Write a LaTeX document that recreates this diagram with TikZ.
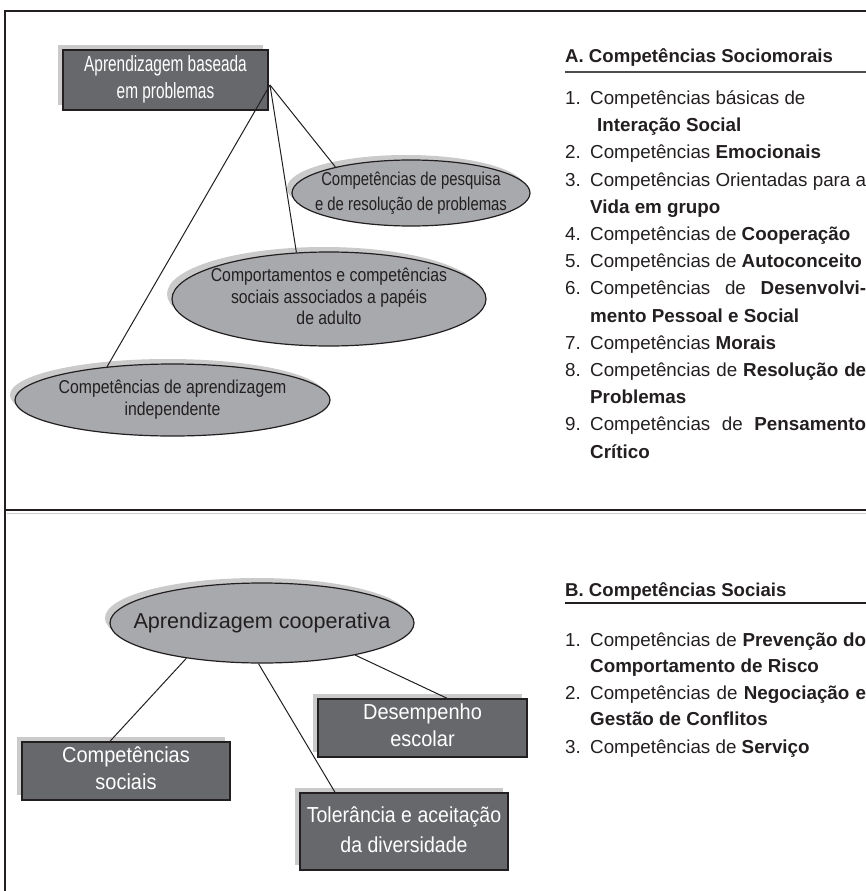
\documentclass[tikz,border=0pt]{standalone}
\usepackage{graphicx}
\usepackage{fontspec}
\setmainfont{Liberation Sans}
\usetikzlibrary{shapes.geometric}
\definecolor{boxgray}{HTML}{67686B}
\definecolor{ovalgray}{HTML}{A7A9AC}
\definecolor{shadegray}{HTML}{CACACA}
\definecolor{inkgray}{HTML}{231F20}
% condensed, centred lines of text
\newcommand{\squeeze}[2]{\scalebox{#1}[1]{\begin{tabular}{@{}c@{}}#2\end{tabular}}}
\tikzset{
  darkbox/.style = {rectangle, draw=inkgray, line width=1.5pt, fill=boxgray, text=white, inner sep=0pt,
    font=\fontsize{21.7}{27}\selectfont,
    preaction={fill=shadegray, transform canvas={shift={(-5pt,5pt)}}}},
  oval/.style = {ellipse, draw=inkgray, line width=1.2pt, fill=ovalgray, text=inkgray, inner sep=-50pt,
    font=\fontsize{18.6}{22.5}\selectfont,
    preaction={fill=shadegray, transform canvas={shift={(-5pt,5pt)}}}},
  link/.style = {draw=inkgray, line width=1pt},
  item/.style = {anchor=base west, inner sep=0pt, text=inkgray, font=\fontsize{18.8}{22}\selectfont},
  head/.style = {anchor=base west, inner sep=0pt, text=inkgray, font=\bfseries\fontsize{18.6}{22}\selectfont},
}

\begin{document}
\begin{tikzpicture}[x=1pt, y=-1pt]
    \useasboundingbox (0,0) rectangle (866,891);

    % Frame
    \draw [inkgray, line width=2pt] (866,11) -- (5,11) -- (5,891);
    \draw [inkgray, line width=2pt] (5,510) -- (866,510);
    \draw [shadegray, line width=1pt] (7,513.5) -- (866,513.5);

    % Part A: diagram
    \node (pbl) [darkbox, minimum width=205pt, minimum height=60pt, font=\fontsize{22}{27}\selectfont] at (165.5,80) {\squeeze{0.7}{Aprendizagem baseada\\em problemas}};
    \coordinate (hub) at (270,85);
    \node (pesq) [oval, minimum width=238pt, minimum height=66pt, font=\fontsize{18.6}{25}\selectfont] at (411,193) {\squeeze{0.8}{Competências de pesquisa\\e de resolução de problemas}};
    \node (adult) [oval, minimum width=314pt, minimum height=94pt, font=\fontsize{18.6}{21.5}\selectfont] at (329,299) {\squeeze{0.85}{Comportamentos e competências\\sociais associados a papéis\\de adulto}};
    \node (indep) [oval, minimum width=315pt, minimum height=72pt] at (172.5,400) {\squeeze{0.85}{Competências de aprendizagem\\independente}};

    \draw [link] (hub) -- (pesq.161);
    \draw [link] (hub) -- (adult.125);
    \draw [link] (hub) -- (indep.153);

    % Part A: list
    \node (titleA) [head] at (565,63) {A. Competências Sociomorais};
    \draw [inkgray!80, line width=1.5pt] (565,72) -- (866,72);
    \node (a1) [item] at (565,104) {1.};
    \node (a1t) [item] at (590,104) {Competências básicas de};
    \node (a1b) [item] at (597,131) {\bfseries Interação Social};
    \node (a2) [item] at (565,158) {2.};
    \node (a2t) [item] at (590,158) {Competências \textbf{Emocionais}};
    \node (a3) [item] at (565,186) {3.};
    \node (a3t) [item] at (590,186) {\makebox[276pt][s]{Competências Orientadas para a}};
    \node (a3b) [item] at (590,213) {\bfseries Vida em grupo};
    \node (a4) [item] at (565,240) {4.};
    \node (a4t) [item] at (590,240) {Competências de \textbf{Cooperação}};
    \node (a5) [item] at (565,267) {5.};
    \node (a5t) [item] at (590,267) {Competências de \textbf{Autoconceito}};
    \node (a6) [item] at (565,294) {6.};
    \node (a6t) [item] at (590,294) {\makebox[276pt][s]{Competências de \textbf{Desenvolvi-}}};
    \node (a6b) [item] at (590,322) {\bfseries mento Pessoal e Social};
    \node (a7) [item] at (565,349) {7.};
    \node (a7t) [item] at (590,349) {Competências \textbf{Morais}};
    \node (a8) [item] at (565,376) {8.};
    \node (a8t) [item] at (590,376) {\makebox[276pt][s]{Competências de \textbf{Resolução de}}};
    \node (a8b) [item] at (590,403) {\bfseries Problemas};
    \node (a9) [item] at (565,430) {9.};
    \node (a9t) [item] at (590,430) {\makebox[276pt][s]{Competências de \textbf{Pensamento}}};
    \node (a9b) [item] at (590,458) {\bfseries Crítico};

    % Part B: diagram
    \node (coop) [oval, minimum width=304pt, minimum height=80pt, font=\fontsize{21.6}{26}\selectfont] at (262,623) {Aprendizagem cooperativa};
    \node (social) [darkbox, minimum width=208pt, minimum height=58pt] at (126,771) {\squeeze{0.92}{Competências\\sociais}};
    \node (escolar) [darkbox, minimum width=209pt, minimum height=58pt] at (422.5,728) {\squeeze{0.92}{Desempenho\\escolar}};
    \node (toler) [darkbox, minimum width=208pt, minimum height=77pt, font=\fontsize{21.7}{30}\selectfont] at (404,831.5) {\squeeze{0.9}{Tolerância e aceitação\\da diversidade}};

    \draw [link] (coop.205) -- ([xshift=-16pt]social.north);
    \draw [link] (coop.265) -- ([xshift=-69pt]toler.north);
    \draw [link] (coop.341) -- ([xshift=24.5pt]escolar.north);

    % Part B: list
    \node (titleB) [head] at (565,596) {B. Competências Sociais};
    \draw [inkgray, line width=1.2pt] (565,603) -- (866,603);
    \node (b1) [item] at (565,646) {1.};
    \node (b1t) [item] at (590,646) {\makebox[276pt][s]{Competências de \textbf{Prevenção do}}};
    \node (b1b) [item] at (590,672) {\bfseries Comportamento de Risco};
    \node (b2) [item] at (565,699) {2.};
    \node (b2t) [item] at (590,699) {\makebox[276pt][s]{Competências de \textbf{Negociação e}}};
    \node (b2b) [item] at (590,725) {\bfseries Gestão de Conflitos};
    \node (b3) [item] at (565,753) {3.};
    \node (b3t) [item] at (590,753) {Competências de \textbf{Serviço}};

\end{tikzpicture}
\end{document}
